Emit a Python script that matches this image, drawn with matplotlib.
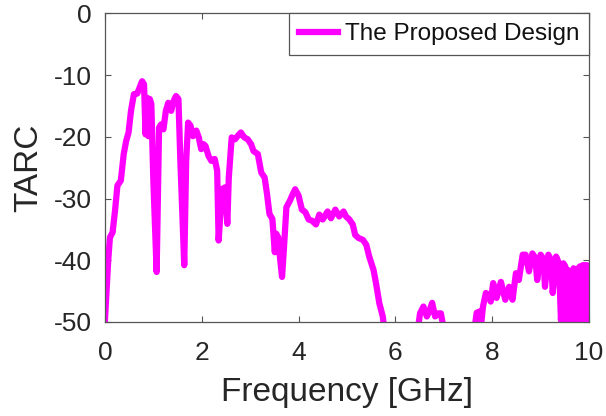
import numpy as np
import matplotlib
matplotlib.use('Agg')
import matplotlib.pyplot as plt

# ── TARC curve (GHz, dB) ────────────────────────────────────
freq = [
    0.00, 0.07, 0.105, 0.16, 0.21, 0.26, 0.33, 0.39, 0.44, 0.49,
    0.54, 0.60, 0.67, 0.72, 0.77, 0.81, 0.84, 0.88, 0.90, 0.93,
    0.96, 1.00, 1.07, 1.12, 1.16, 1.21, 1.26, 1.31, 1.37, 1.42,
    1.47, 1.52, 1.56, 1.64, 1.68, 1.72, 1.77, 1.82, 1.89, 1.94,
    1.99, 2.04, 2.08, 2.14, 2.20, 2.27, 2.32, 2.35, 2.42, 2.48,
    2.53, 2.56, 2.62, 2.69, 2.74, 2.81, 2.88, 2.95, 3.02, 3.07,
    3.16, 3.23, 3.30, 3.35, 3.40, 3.46, 3.51, 3.54, 3.58, 3.61,
    3.66, 3.70, 3.75, 3.82, 3.88, 3.93, 4.00, 4.07, 4.14, 4.21,
    4.28, 4.36, 4.43, 4.50, 4.60, 4.67, 4.76, 4.84, 4.93, 4.98,
    5.05, 5.12, 5.17, 5.24, 5.33, 5.40, 5.46, 5.55, 5.60, 5.67,
    5.74, 5.80, 5.95, 6.20, 6.45, 6.51, 6.58, 6.65, 6.70, 6.76,
    6.82, 6.89, 6.94, 7.02, 7.20, 7.45, 7.62, 7.68, 7.74, 7.77,
    7.81, 7.87, 7.94, 7.97, 8.02, 8.09, 8.18, 8.27, 8.35, 8.42,
    8.49, 8.55, 8.63, 8.69, 8.76, 8.83, 8.89, 8.93, 9.00, 9.06,
    9.09, 9.16, 9.22, 9.25, 9.32, 9.38, 9.42, 9.47, 9.51, 9.54,
    9.57, 9.61, 9.64, 9.68, 9.71, 9.74, 9.78, 9.81, 9.84, 9.87,
    9.90, 9.93, 9.96, 9.99, 10.00,
]
tarc = [
    -50.0, -40.0, -36.3, -35.5, -32.0, -27.9, -27.1, -22.8, -20.7, -19.3,
    -15.8, -13.1, -13.0, -12.0, -11.0, -11.5, -19.6, -13.7, -19.9, -13.9,
    -14.7, -26.6, -41.9, -18.5, -18.0, -18.8, -15.8, -14.5, -15.8, -14.2,
    -13.4, -13.9, -23.9, -40.8, -23.9, -17.7, -18.2, -19.9, -19.0, -20.1,
    -22.0, -21.2, -21.5, -23.1, -23.9, -23.6, -25.5, -36.8, -28.5, -28.2,
    -34.1, -26.6, -20.1, -20.4, -19.9, -19.3, -20.1, -20.4, -21.2, -22.3,
    -22.8, -25.8, -26.6, -29.3, -32.5, -33.3, -38.7, -35.7, -36.3, -39.0,
    -42.7, -37.9, -31.4, -30.4, -29.3, -28.5, -29.5, -31.8, -32.2, -33.4,
    -33.6, -34.2, -32.6, -33.4, -32.1, -33.2, -31.8, -32.9, -32.1, -32.9,
    -33.4, -34.2, -35.9, -36.4, -36.7, -37.5, -39.4, -41.6, -43.7, -47.0,
    -49.1, -53.0, -56.0, -55.0, -52.0, -48.6, -47.5, -49.1, -48.3, -46.9,
    -49.1, -48.6, -48.6, -52.0, -56.0, -54.0, -52.0, -48.5, -48.3, -50.5,
    -47.5, -45.3, -45.8, -46.7, -43.7, -46.1, -43.5, -46.4, -44.3, -46.4,
    -42.1, -43.2, -39.1, -39.1, -41.8, -38.9, -39.6, -43.2, -39.1, -39.8,
    -44.3, -39.1, -40.0, -45.3, -39.4, -40.5, -49.7, -40.5, -41.0, -52.0,
    -41.6, -42.0, -53.0, -41.3, -41.8, -53.0, -41.3, -41.0, -53.0, -40.8,
    -40.8, -53.0, -40.8, -53.0, -41.0,
]

plt.rcParams['font.family'] = ['Liberation Sans', 'DejaVu Sans']
plt.rcParams['axes.unicode_minus'] = False
axis_col = '#262626'
frame_col = '#555555'

fig = plt.figure(figsize=(6.06, 4.16), dpi=100)
ax = fig.add_axes([0.173, 0.226, 0.799, 0.742])

ax.plot(freq, tarc, color='#FF00FF', linewidth=4.5,
        solid_joinstyle='round', label='The Proposed Design')

ax.set_xlim(0, 10)
ax.set_ylim(-50, 0)
ax.set_xticks(np.arange(0, 11, 2))
ax.set_yticks(np.arange(-50, 1, 10))
ax.tick_params(direction='in', top=True, right=True, length=4,
               width=0.8, color=frame_col, labelsize=19,
               labelcolor=axis_col)
ax.tick_params(axis='x', pad=14)
ax.tick_params(axis='y', pad=9.5)
for s in ax.spines.values():
    s.set_color(frame_col)
    s.set_linewidth(0.9)

ax.set_xlabel('Frequency [GHz]', fontsize=24, color=axis_col, labelpad=8)
ax.set_ylabel('TARC', fontsize=24, color=axis_col, labelpad=7)

leg = ax.legend(loc='upper right', fontsize=17.5, borderaxespad=0,
                fancybox=False, framealpha=1, edgecolor=frame_col,
                handlelength=1.6, handletextpad=0.3, borderpad=0.4)
leg.get_frame().set_linewidth(0.9)
for t in leg.get_texts():
    t.set_color('#111111')

fig.savefig('out.png', dpi=100)
